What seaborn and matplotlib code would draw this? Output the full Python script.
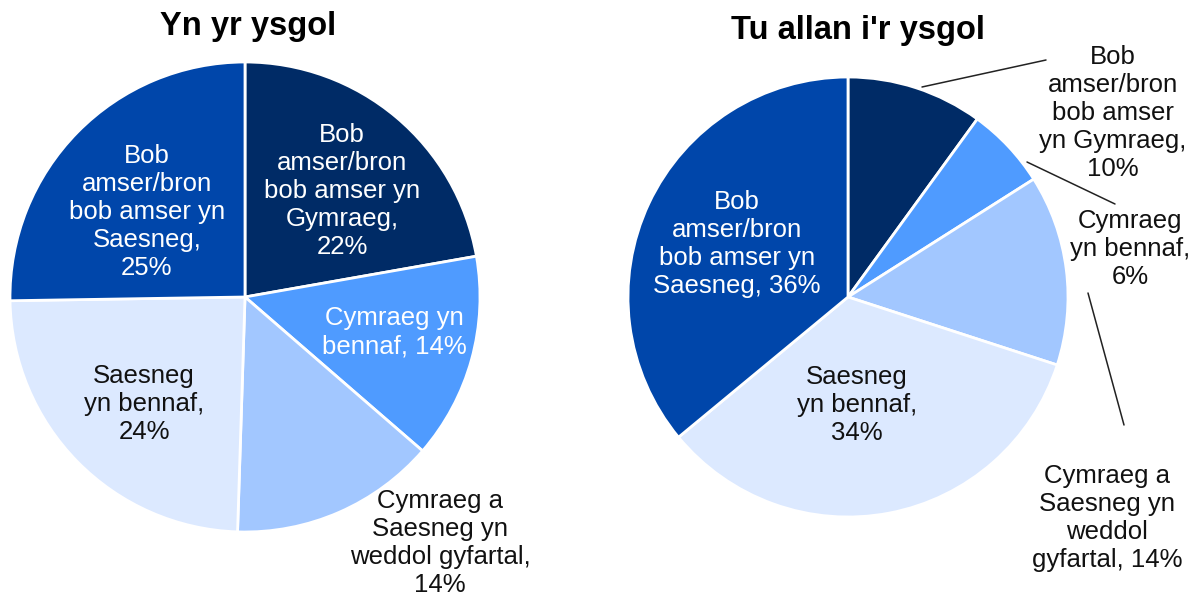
import numpy as np
import seaborn as sns
import matplotlib.pyplot as plt

# Data
categories = ["Bob amser/bron bob amser yn Gymraeg", "Cymraeg yn bennaf",
              "Cymraeg a Saesneg yn weddol gyfartal", "Saesneg yn bennaf",
              "Bob amser/bron bob amser yn Saesneg"]
in_school = [22, 14, 14, 24, 25]
out_school = [10, 6, 14, 34, 36]

in_names = ["Bob\namser/bron\nbob amser yn\nGymraeg,\n{}%",
            "Cymraeg yn\nbennaf, {}%",
            "Cymraeg a\nSaesneg yn\nweddol gyfartal,\n{}%",
            "Saesneg\nyn bennaf,\n{}%",
            "Bob\namser/bron\nbob amser yn\nSaesneg,\n{}%"]
out_names = ["Bob\namser/bron\nbob amser\nyn Gymraeg,\n{}%",
             "Cymraeg\nyn bennaf,\n{}%",
             "Cymraeg a\nSaesneg yn\nweddol\ngyfartal, {}%",
             "Saesneg\nyn bennaf,\n{}%",
             "Bob\namser/bron\nbob amser yn\nSaesneg, {}%"]
titles = ["Yn yr ysgol", "Tu allan i'r ysgol"]

colors = ["#002B66", "#4F9BFF", "#A2C7FF", "#DCE9FF", "#0046AA"]
text_colors = ["white", "white", "#111111", "#111111", "white"]
out_text_colors = ["#111111", "#111111", "#111111", "#111111", "white"]

W, H = 1193, 598

sns.set_theme(style="white")
plt.rcParams['font.family'] = ['Liberation Sans', 'DejaVu Sans']

fig = plt.figure(figsize=(W / 100, H / 100), dpi=100)
ax = fig.add_axes([0, 0, 1, 1])
ax.set_xlim(0, W)
ax.set_ylim(0, H)
ax.set_aspect('equal')
ax.axis('off')

# layout (pixels, y measured from top)
pies = [
    dict(vals=in_school, names=in_names, tc=text_colors, cx=245, cy=297, r=235,
         title_xy=(248, 27),
         label_xy=[(342, 191), (394, 332), (440, 543), (144, 404), (147, 212)],
         leaders=[]),
    dict(vals=out_school, names=out_names, tc=out_text_colors, cx=848, cy=297, r=220,
         title_xy=(858, 30),
         label_xy=[(1113, 113), (1130, 249), (1107, 518), (857, 405), (737, 244)],
         leaders=[((922, 87), (1046, 60)), ((1027, 162), (1115, 204)),
                  ((1088, 293), (1124, 425))]),
]

for i, p in enumerate(pies):
    ax.pie(p['vals'], colors=colors, startangle=90, counterclock=False,
           center=(p['cx'], H - p['cy']), radius=p['r'],
           wedgeprops=dict(edgecolor='white', linewidth=2))
    ax.text(p['title_xy'][0], H - p['title_xy'][1], titles[i],
            ha='center', va='center', fontsize=23.5, fontweight='bold', color='black')
    for name, v, (x, y), c in zip(p['names'], p['vals'], p['label_xy'], p['tc']):
        ax.text(x, H - y, name.format(v), ha='center', va='center',
                fontsize=18.5, color=c, linespacing=1.22)
    for (x0, y0), (x1, y1) in p['leaders']:
        ax.plot([x0, x1], [H - y0, H - y1], color='#222222', lw=1.1)

ax.set_xlim(0, W)
ax.set_ylim(0, H)
fig.savefig("out.png", dpi=100)
